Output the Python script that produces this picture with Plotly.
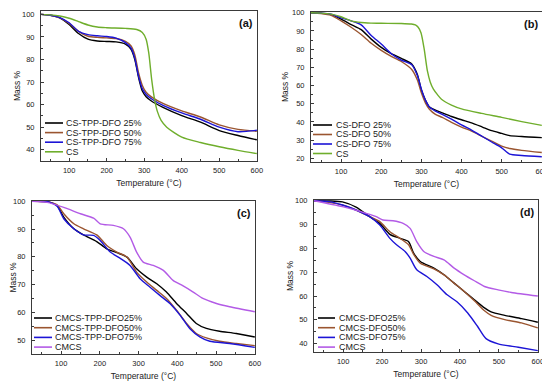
import plotly.graph_objects as go

# ---------------- data ----------------
# Panel (a)
a_T = [25, 50, 75, 100, 125, 150, 175, 200, 225, 250, 265, 275, 285, 295, 305, 320, 350, 400, 450, 500, 550, 600]
a_tpp25 = [100, 99.6, 98.5, 95.5, 91.5, 89, 88.2, 88, 87.8, 86.8, 84.5, 80, 72, 66, 63.5, 61.5, 58.8, 55.1, 52.2, 48.5, 46.3, 44.4]
a_tpp50 = [100, 99.6, 98.5, 96, 92.5, 90.3, 89.8, 89.6, 89.3, 88, 86, 82, 74, 68.5, 65.5, 63.3, 60.5, 57.2, 54.5, 51, 49, 48.2]
a_tpp75 = [100, 99.6, 98.6, 96.3, 92.5, 91, 90.5, 90.2, 89.5, 87.5, 85, 80.5, 72.5, 67, 64.5, 62.5, 59.7, 56.3, 53.5, 50, 48, 48.6]
a_cs_T = [25, 50, 75, 100, 125, 150, 175, 200, 250, 280, 295, 305, 312, 320, 328, 335, 345, 360, 400, 450, 500, 550, 600]
a_cs = [100, 99.8, 99.3, 98.3, 96.8, 95.3, 94.4, 94.1, 93.8, 93.3, 92, 89, 83, 71, 62, 57, 53, 50, 45.6, 43.2, 41.3, 39.7, 38.3]

# Panel (b)
b_T = [25, 50, 75, 100, 125, 150, 175, 200, 225, 250, 276, 290, 300, 310, 320, 335, 352, 375, 400, 425, 452, 475, 500, 520, 550, 600]
b_dfo25 = [100, 99.7, 99, 96.5, 93.5, 90.7, 85.5, 81, 77.5, 74.9, 71.8, 66, 57.5, 52, 48.2, 46.5, 45, 43, 41.2, 39.5, 37.2, 35.2, 33.7, 32.5, 32, 31.4]
b_dfo50 = [100, 99.6, 98.6, 95.5, 92, 88, 83.2, 79.3, 76, 73.2, 68.8, 63, 56, 50.5, 47, 44.2, 42.5, 39.8, 37.2, 35, 32, 29.5, 26.7, 25.4, 24.4, 23.2]
b_dfo75 = [100, 99.8, 99.2, 97.2, 95.5, 93.3, 87.5, 82.8, 77.5, 74, 71.4, 65.5, 58, 52, 48.2, 46, 44.2, 41.5, 38.4, 35.5, 32, 29, 25.8, 22.3, 21.6, 20.9]
b_cs_T = [25, 50, 75, 100, 125, 150, 175, 200, 250, 275, 285, 292, 299, 307, 315, 322, 330, 340, 350, 375, 400, 450, 500, 550, 600]
b_cs = [100, 99.8, 99.2, 97.8, 95.5, 94.6, 94.3, 94.2, 94.1, 93.8, 93.3, 92, 89, 80, 68, 62, 58, 55, 52.5, 49.3, 47.2, 44.7, 42.5, 40.2, 38.1]

# Panel (c)
c_T = [25, 68, 90, 107, 133, 158, 192, 218, 244, 270, 295, 321, 347, 372, 398, 424, 449, 475, 509, 552, 600]
c_tpp25 = [100, 99.8, 98.4, 94.3, 90.1, 87.9, 85.5, 82.9, 81.5, 79.9, 75.7, 72.7, 70.3, 67.3, 63.2, 59.6, 56, 54.2, 53.2, 52.4, 51.1]
c_tpp50 = [100, 99.8, 98.7, 95.5, 91.9, 90.1, 87.9, 84.1, 81.7, 79.9, 74.5, 70.9, 67.9, 65, 60.8, 56, 52.4, 50.8, 49.6, 48.8, 48]
c_tpp75_T = [25, 68, 90, 107, 133, 158, 184, 201, 227, 252, 278, 304, 329, 355, 381, 407, 432, 458, 484, 535, 600]
c_tpp75 = [100, 99.8, 98.2, 93.7, 90.1, 87.9, 87.7, 85.9, 81.7, 79.5, 76.9, 72.1, 69.1, 66.1, 63.2, 59, 54.2, 51.2, 49.6, 48.8, 47.4]
cmcs_c_T = [25, 64, 107, 150, 184, 201, 235, 261, 278, 295, 312, 338, 364, 389, 415, 441, 466, 501, 535, 600]
cmcs_c = [100, 99.6, 97.8, 95.5, 93.9, 91.9, 91.3, 90.1, 87.1, 81.7, 78.1, 76.9, 75.1, 71.5, 69.5, 67.3, 65, 63.2, 62, 60.2]

# Panel (d)
d_T = [25, 64, 98, 133, 168, 194, 220, 246, 268, 281, 298, 333, 359, 385, 411, 437, 463, 480, 515, 558, 600]
d_dfo25 = [100, 99.9, 99.5, 97.3, 93.3, 90.5, 85.9, 84.2, 82.8, 78, 74.5, 71.7, 68.9, 65.4, 61.9, 58.4, 55, 53.3, 51.9, 50.5, 49]
d_dfo50 = [100, 99.3, 98.2, 96.1, 93.3, 91.2, 87, 84.2, 81.5, 77.5, 73.8, 71.4, 68.9, 65.4, 61.9, 58, 53.8, 51.9, 50.1, 48.7, 46.6]
d_dfo75_T = [25, 64, 98, 133, 168, 194, 220, 237, 259, 272, 289, 315, 341, 367, 393, 420, 445, 467, 498, 550, 600]
d_dfo75 = [100, 99.6, 98.2, 96.1, 93.3, 89.8, 84.2, 81.5, 78.7, 75.9, 71, 68.2, 64.7, 60.5, 57.5, 52.9, 47.3, 42.1, 39.9, 38.5, 37.1]
cmcs_d_T = [25, 98, 159, 185, 202, 228, 254, 272, 289, 307, 333, 359, 385, 411, 437, 463, 498, 532, 600]
cmcs_d = [100, 97.5, 94.7, 93.3, 91.9, 91.6, 90.5, 88.4, 82.8, 78.7, 76.6, 75.2, 71.7, 68.9, 66.4, 64, 62.6, 61.5, 60]

# labels
a_names = ["CS-TPP-DFO 25%", "CS-TPP-DFO 50%", "CS-TPP-DFO 75%", "CS"]
b_names = ["CS-DFO 25%", "CS-DFO 50%", "CS-DFO 75%", "CS"]
c_names = ["CMCS-TPP-DFO25%", "CMCS-TPP-DFO50%", "CMCS-TPP-DFO75%", "CMCS"]
d_names = ["CMCS-DFO25%", "CMCS-DFO50%", "CMCS-DFO75%", "CMCS"]
panel_labels = ["(a)", "(b)", "(c)", "(d)"]
x_ticks = [100, 200, 300, 400, 500, 600]

# ---------------- styling ----------------
WIN_W, WIN_H = 550, 383
OFF = 8  # default page body margin
W, H = WIN_W - OFF, WIN_H - OFF
BLACK = "#000000"
BROWN = "#9a5530"
BLUE = "#1c14d6"
GREEN = "#6fae2c"
PURPLE = "#b35be6"
FONT = "Arial, Liberation Sans, sans-serif"


def px_x(x):
    return min(1.0, max(0.0, (x - OFF) / W))


def px_y(y):
    return min(1.0, max(0.0, 1 - (y - OFF) / H))


# panel plot areas in window pixels: (left, right, top, bottom)
panels = [
    dict(box=(41, 257, 11, 161), yr=[35, 101.5], yt=[40, 50, 60, 70, 80, 90, 100], ys=0),
    dict(box=(311, 542, 12, 162), yr=[18, 100.4], yt=[20, 30, 40, 50, 60, 70, 80, 90, 100], ys=2),
    dict(box=(32, 255, 201, 354), yr=[45, 100.1], yt=[50, 60, 70, 80, 90, 100], ys=0),
    dict(box=(314, 538, 200, 352), yr=[36.5, 100.3], yt=[40, 50, 60, 70, 80, 90, 100], ys=0),
]

series = [
    [(a_T, a_tpp25, BLACK), (a_T, a_tpp50, BROWN), (a_T, a_tpp75, BLUE), (a_cs_T, a_cs, GREEN)],
    [(b_T, b_dfo25, BLACK), (b_T, b_dfo50, BROWN), (b_T, b_dfo75, BLUE), (b_cs_T, b_cs, GREEN)],
    [(c_T, c_tpp25, BLACK), (c_T, c_tpp50, BROWN), (c_tpp75_T, c_tpp75, BLUE), (cmcs_c_T, cmcs_c, PURPLE)],
    [(d_T, d_dfo25, BLACK), (d_T, d_dfo50, BROWN), (d_dfo75_T, d_dfo75, BLUE), (cmcs_d_T, cmcs_d, PURPLE)],
]
names = [a_names, b_names, c_names, d_names]

# legend placement (window pixels): line x0, x1, text x, first row y, row step
legends = [
    (45, 63, 64, 123, 9.6),
    (313, 332, 334, 125, 9.5),
    (34, 52, 53, 318, 9.7),
    (318, 335, 337, 318, 9.7),
]

fig = go.Figure()
layout = dict(
    width=W, height=H,
    margin=dict(l=0, r=0, t=0, b=0),
    paper_bgcolor="white", plot_bgcolor="white",
    showlegend=False,
    font=dict(family=FONT, color="#222222"),
)
annotations = []
shapes = []

for i, p in enumerate(panels):
    l, r, t, b = p["box"]
    xa = "xaxis" if i == 0 else f"xaxis{i+1}"
    ya = "yaxis" if i == 0 else f"yaxis{i+1}"
    xref = "x" if i == 0 else f"x{i+1}"
    yref = "y" if i == 0 else f"y{i+1}"
    for (tx, ty, col), nm in zip(series[i], names[i]):
        fig.add_trace(go.Scatter(
            x=tx, y=ty, mode="lines", name=nm,
            line=dict(color=col, width=1.4, shape="spline", smoothing=0.7),
            xaxis=xref, yaxis=yref,
        ))
    common = dict(
        showline=True, linecolor="#3a3a3a", linewidth=1, mirror=True,
        ticks="inside", ticklen=3, tickcolor="#3a3a3a",
        showgrid=False, zeroline=False, automargin=False,
        ticklabeloverflow="allow",
        tickfont=dict(size=7.5, family=FONT, color="#222222"),
    )
    layout[xa] = dict(
        common, domain=[px_x(l), px_x(r)], range=[25, 600.5],
        tickvals=x_ticks, anchor=yref, ticklabelstandoff=2,
        minor=dict(ticks="inside", ticklen=2, dtick=50, tick0=0, tickcolor="#3a3a3a"),
        title=dict(text="Temperature (°C)", font=dict(size=8.5, family=FONT), standoff=6),
    )
    layout[ya] = dict(
        common, domain=[px_y(b), px_y(t)], range=p["yr"],
        tickvals=p["yt"], anchor=xref, ticklabelstandoff=4,
        minor=dict(ticks="inside", ticklen=2, dtick=5, tick0=0, tickcolor="#3a3a3a"),
        title=dict(text="Mass %", font=dict(size=8.5, family=FONT), standoff=p["ys"]),
    )
    # panel label
    annotations.append(dict(
        text=f"<b>{panel_labels[i]}</b>", xref="paper", yref="paper",
        x=px_x(r - 2), y=px_y(t + 4), xanchor="right", yanchor="top",
        showarrow=False, font=dict(size=11, family=FONT, color="#111111"),
    ))
    # legend
    lx0, lx1, tx0, ly0, step = legends[i]
    for k, ((_, _, col), nm) in enumerate(zip(series[i], names[i])):
        yy = ly0 + k * step
        shapes.append(dict(type="line", xref="paper", yref="paper",
                           x0=px_x(lx0), x1=px_x(lx1), y0=px_y(yy), y1=px_y(yy),
                           line=dict(color=col, width=1.6)))
        annotations.append(dict(
            text=nm, xref="paper", yref="paper", x=px_x(tx0), y=px_y(yy),
            xanchor="left", yanchor="middle", showarrow=False,
            font=dict(size=9, family=FONT, color="#222222"),
        ))

layout["annotations"] = annotations
layout["shapes"] = shapes
fig.update_layout(**layout)
fig.write_html("out.html")
